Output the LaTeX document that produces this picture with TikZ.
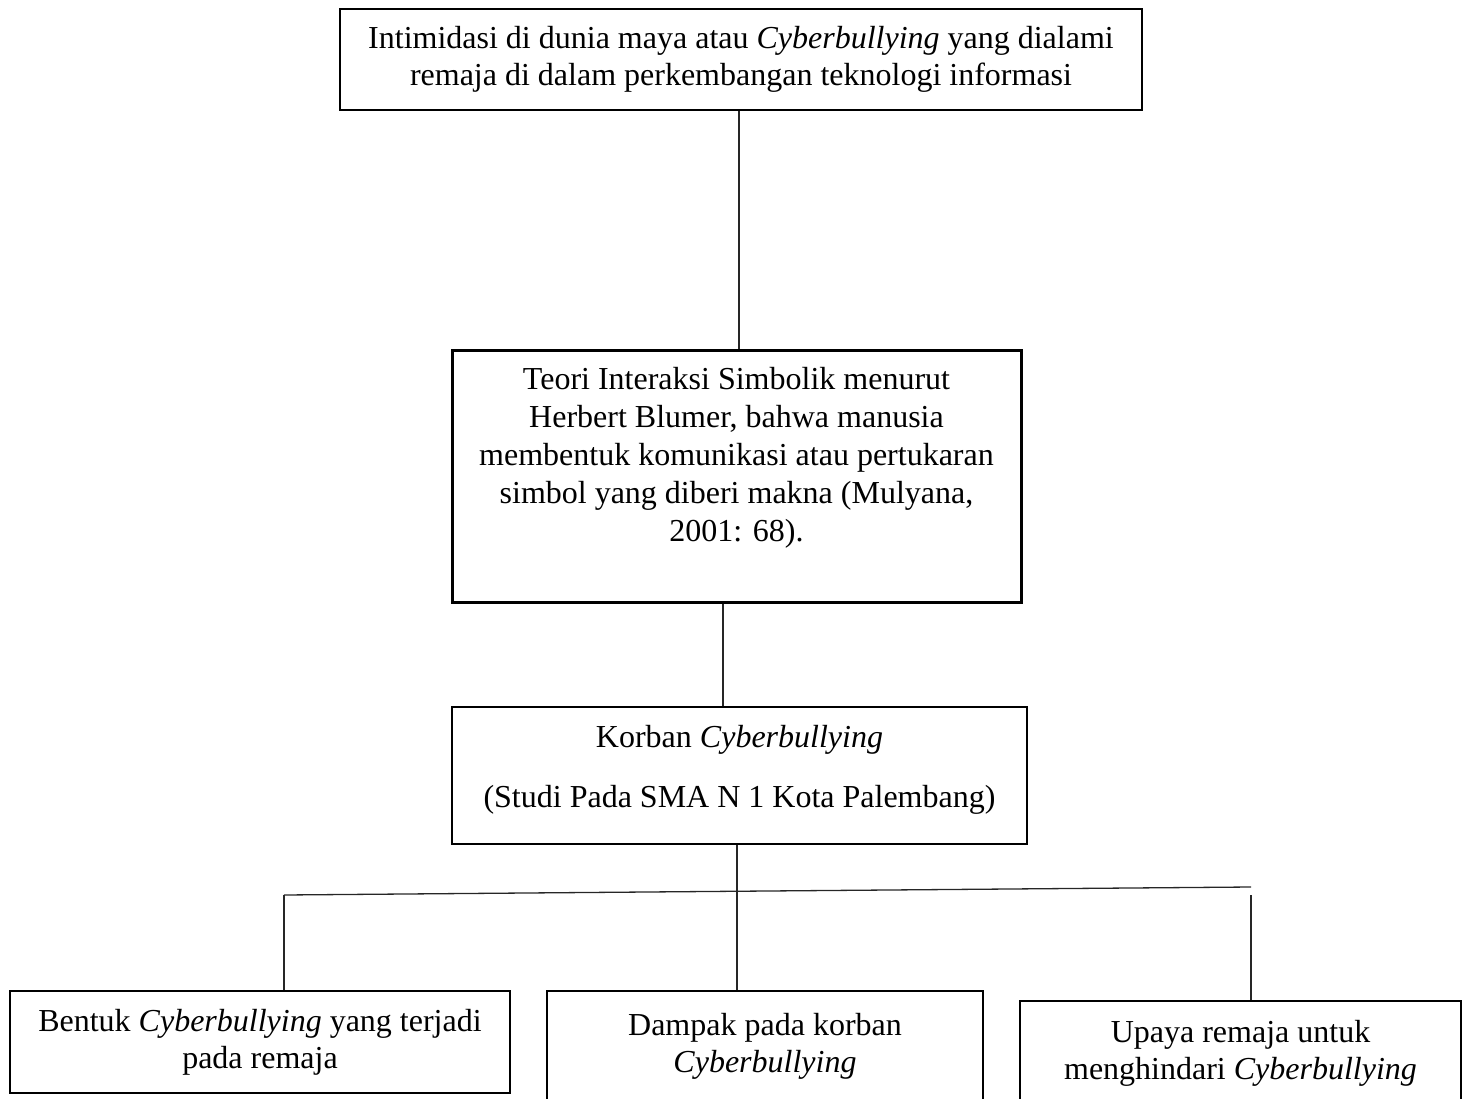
\documentclass[tikz,border=0pt]{standalone}
\usepackage{fontspec}
\setmainfont{Liberation Serif}
\usetikzlibrary{positioning,calc}

\tikzset{
  box/.style={draw, rectangle, line width=2pt, inner sep=0pt, align=center,
    font=\fontsize{32}{37}\selectfont},
  conn/.style={line width=1.3pt, draw=black!85},
}

\begin{document}
\begin{tikzpicture}[x=1pt,y=-1pt]
  \useasboundingbox (0,0) rectangle (1467,1099);

  % masalah
  \node[box, minimum width=802, minimum height=101] (intimidasi) at (741,59.5)
    {Intimidasi di dunia maya atau \textit{Cyberbullying} yang dialami\\
     remaja di dalam perkembangan teknologi informasi};

  % teori
  \node[box, line width=3pt, minimum width=569, minimum height=252] (teori) at (736.5,476) {};
  \node[box, draw=none, font=\fontsize{32}{38}\selectfont] (teoritxt) at ([yshift=18pt]teori.center)
    {Teori Interaksi Simbolik menurut\\
     Herbert Blumer, bahwa manusia\\
     membentuk komunikasi atau pertukaran\\
     simbol yang diberi makna (Mulyana,\\
     2001: 68).};

  % subjek
  \node[box, minimum width=575, minimum height=137] (korban) at (739.5,775.5) {};
  \node[box, draw=none] (korbantxt) at ([yshift=6pt]korban.center)
    {Korban \textit{Cyberbullying}\\[23pt]
     (Studi Pada SMA N 1 Kota Palembang)};

  % fokus penelitian
  \node[box, minimum width=500, minimum height=102] (bentuk) at (260,1042)
    {Bentuk \textit{Cyberbullying} yang terjadi\\ pada remaja};
  \node[box, minimum width=436, minimum height=110] (dampak) at (765,1046)
    {Dampak pada korban\\ \textit{Cyberbullying}};
  \node[box, minimum width=441, minimum height=104] (upaya) at (1240.5,1053)
    {Upaya remaja untuk\\ menghindari \textit{Cyberbullying}};

  \coordinate (hl) at (284,895);
  \coordinate (hr) at (1251,887);

  \draw[conn] ([xshift=-2pt]intimidasi.south) -- ([xshift=-2pt]intimidasi.south |- teori.north);
  \draw[conn] ([xshift=-13.5pt]teori.south) -- ([xshift=-13.5pt]teori.south |- korban.north);
  \draw[conn] ([xshift=-2.5pt]korban.south) -- ([xshift=-2.5pt]korban.south |- dampak.north);
  \draw[conn] (hl) -- (hr);
  \draw[conn] (hl) -- (hl |- bentuk.north);
  \draw[conn] ([yshift=-8pt]hr) -- (hr |- upaya.north);
\end{tikzpicture}
\end{document}
